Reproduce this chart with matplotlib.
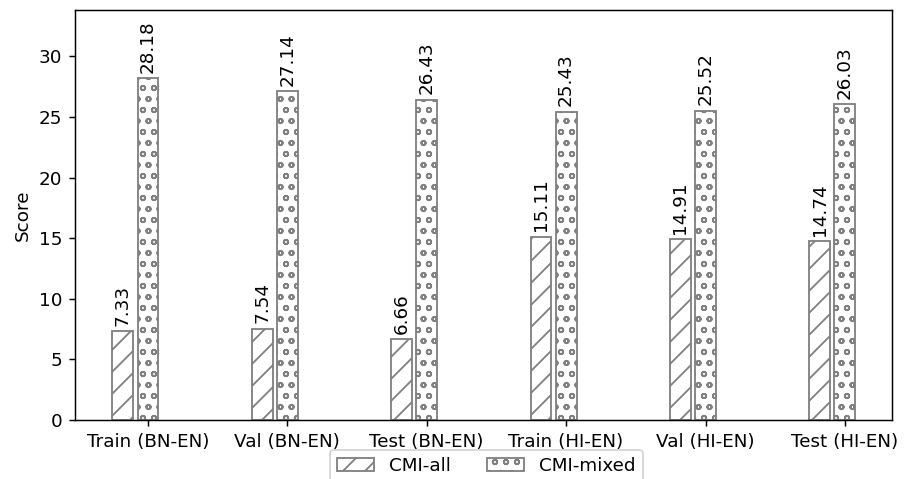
import matplotlib
matplotlib.use("Agg")
import matplotlib.pyplot as plt
import numpy as np

splits = ["Train (BN-EN)", "Val (BN-EN)", "Test (BN-EN)",
          "Train (HI-EN)", "Val (HI-EN)", "Test (HI-EN)"]
cmi_all = [7.33, 7.54, 6.66, 15.11, 14.91, 14.74]
cmi_mixed = [28.18, 27.14, 26.43, 25.43, 25.52, 26.03]

x = np.arange(len(splits))
width = 0.15

dpi = 132
fig, ax = plt.subplots(figsize=(907 / dpi, 479 / dpi), dpi=dpi)
fig.subplots_adjust(left=0.083, right=0.984, top=0.979, bottom=0.123)

b1 = ax.bar(x - 0.18, cmi_all, width, label="CMI-all",
            color="white", edgecolor="grey", hatch="//")
b2 = ax.bar(x, cmi_mixed, width, label="CMI-mixed",
            color="white", edgecolor="grey", hatch="oo")
ax.bar_label(b1, fmt="%.2f", rotation=90, padding=3)
ax.bar_label(b2, fmt="%.2f", rotation=90, padding=3)

ax.set_xticks(x)
ax.set_xticklabels(splits)
ax.set_ylabel("Score")
ax.set_ylim(0, max(cmi_mixed) * 1.2)
ax.legend(loc="upper center", bbox_to_anchor=(0.503, -0.05), ncol=2)

plt.savefig("out.png", dpi=dpi)
plt.close(fig)
